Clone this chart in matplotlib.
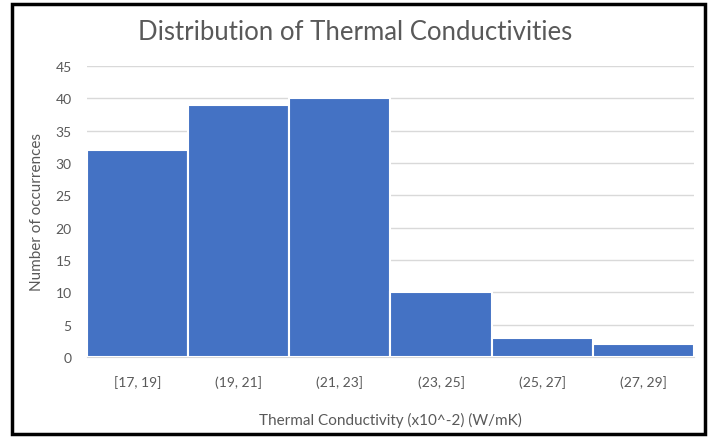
import matplotlib.pyplot as plt
from matplotlib.patches import Rectangle

bins = ['[17, 19]', '(19, 21]', '(21, 23]', '(23, 25]', '(25, 27]', '(27, 29]']
counts = [32, 39, 40, 10, 3, 2]

plt.rcParams['font.family'] = ['Lato', 'DejaVu Sans']

fig = plt.figure(figsize=(7.11, 4.39), dpi=100)
ax = fig.add_axes([0.1224, 0.1845, 0.8536, 0.6629])

ax.bar(range(len(bins)), counts, width=1.0, color='#4472C4',
       edgecolor='white', linewidth=1.5, zorder=3)

ax.set_xlim(-0.5, len(bins) - 0.5)
ax.set_ylim(0, 45)
ax.set_yticks(range(0, 46, 5))
ax.set_xticks(range(len(bins)))
ax.set_xticklabels(bins)
ax.grid(axis='y', color='#d9d9d9', linewidth=1, zorder=0)
for side in ['top', 'right', 'left']:
    ax.spines[side].set_visible(False)
ax.spines['bottom'].set_color('#d9d9d9')
ax.tick_params(length=0, labelsize=10, colors='#595959')
ax.tick_params(axis='x', pad=13)
ax.tick_params(axis='y', pad=11)

ax.set_xlabel('Thermal Conductivity (x10^-2) (W/mK)', fontsize=11,
              color='#595959', labelpad=17)
ax.set_ylabel('Number of occurrences', fontsize=11, color='#595959', labelpad=8)
fig.text(0.5, 0.925, 'Distribution of Thermal Conductivities', ha='center',
         va='center', fontsize=18.5, color='#595959')

# black frame around the chart
fig.patches.append(Rectangle((12 / 711, 1 - 435 / 439), 693 / 711, 430 / 439,
                             transform=fig.transFigure, fill=False,
                             edgecolor='black', linewidth=2.5))

fig.savefig('out.png', dpi=100)
